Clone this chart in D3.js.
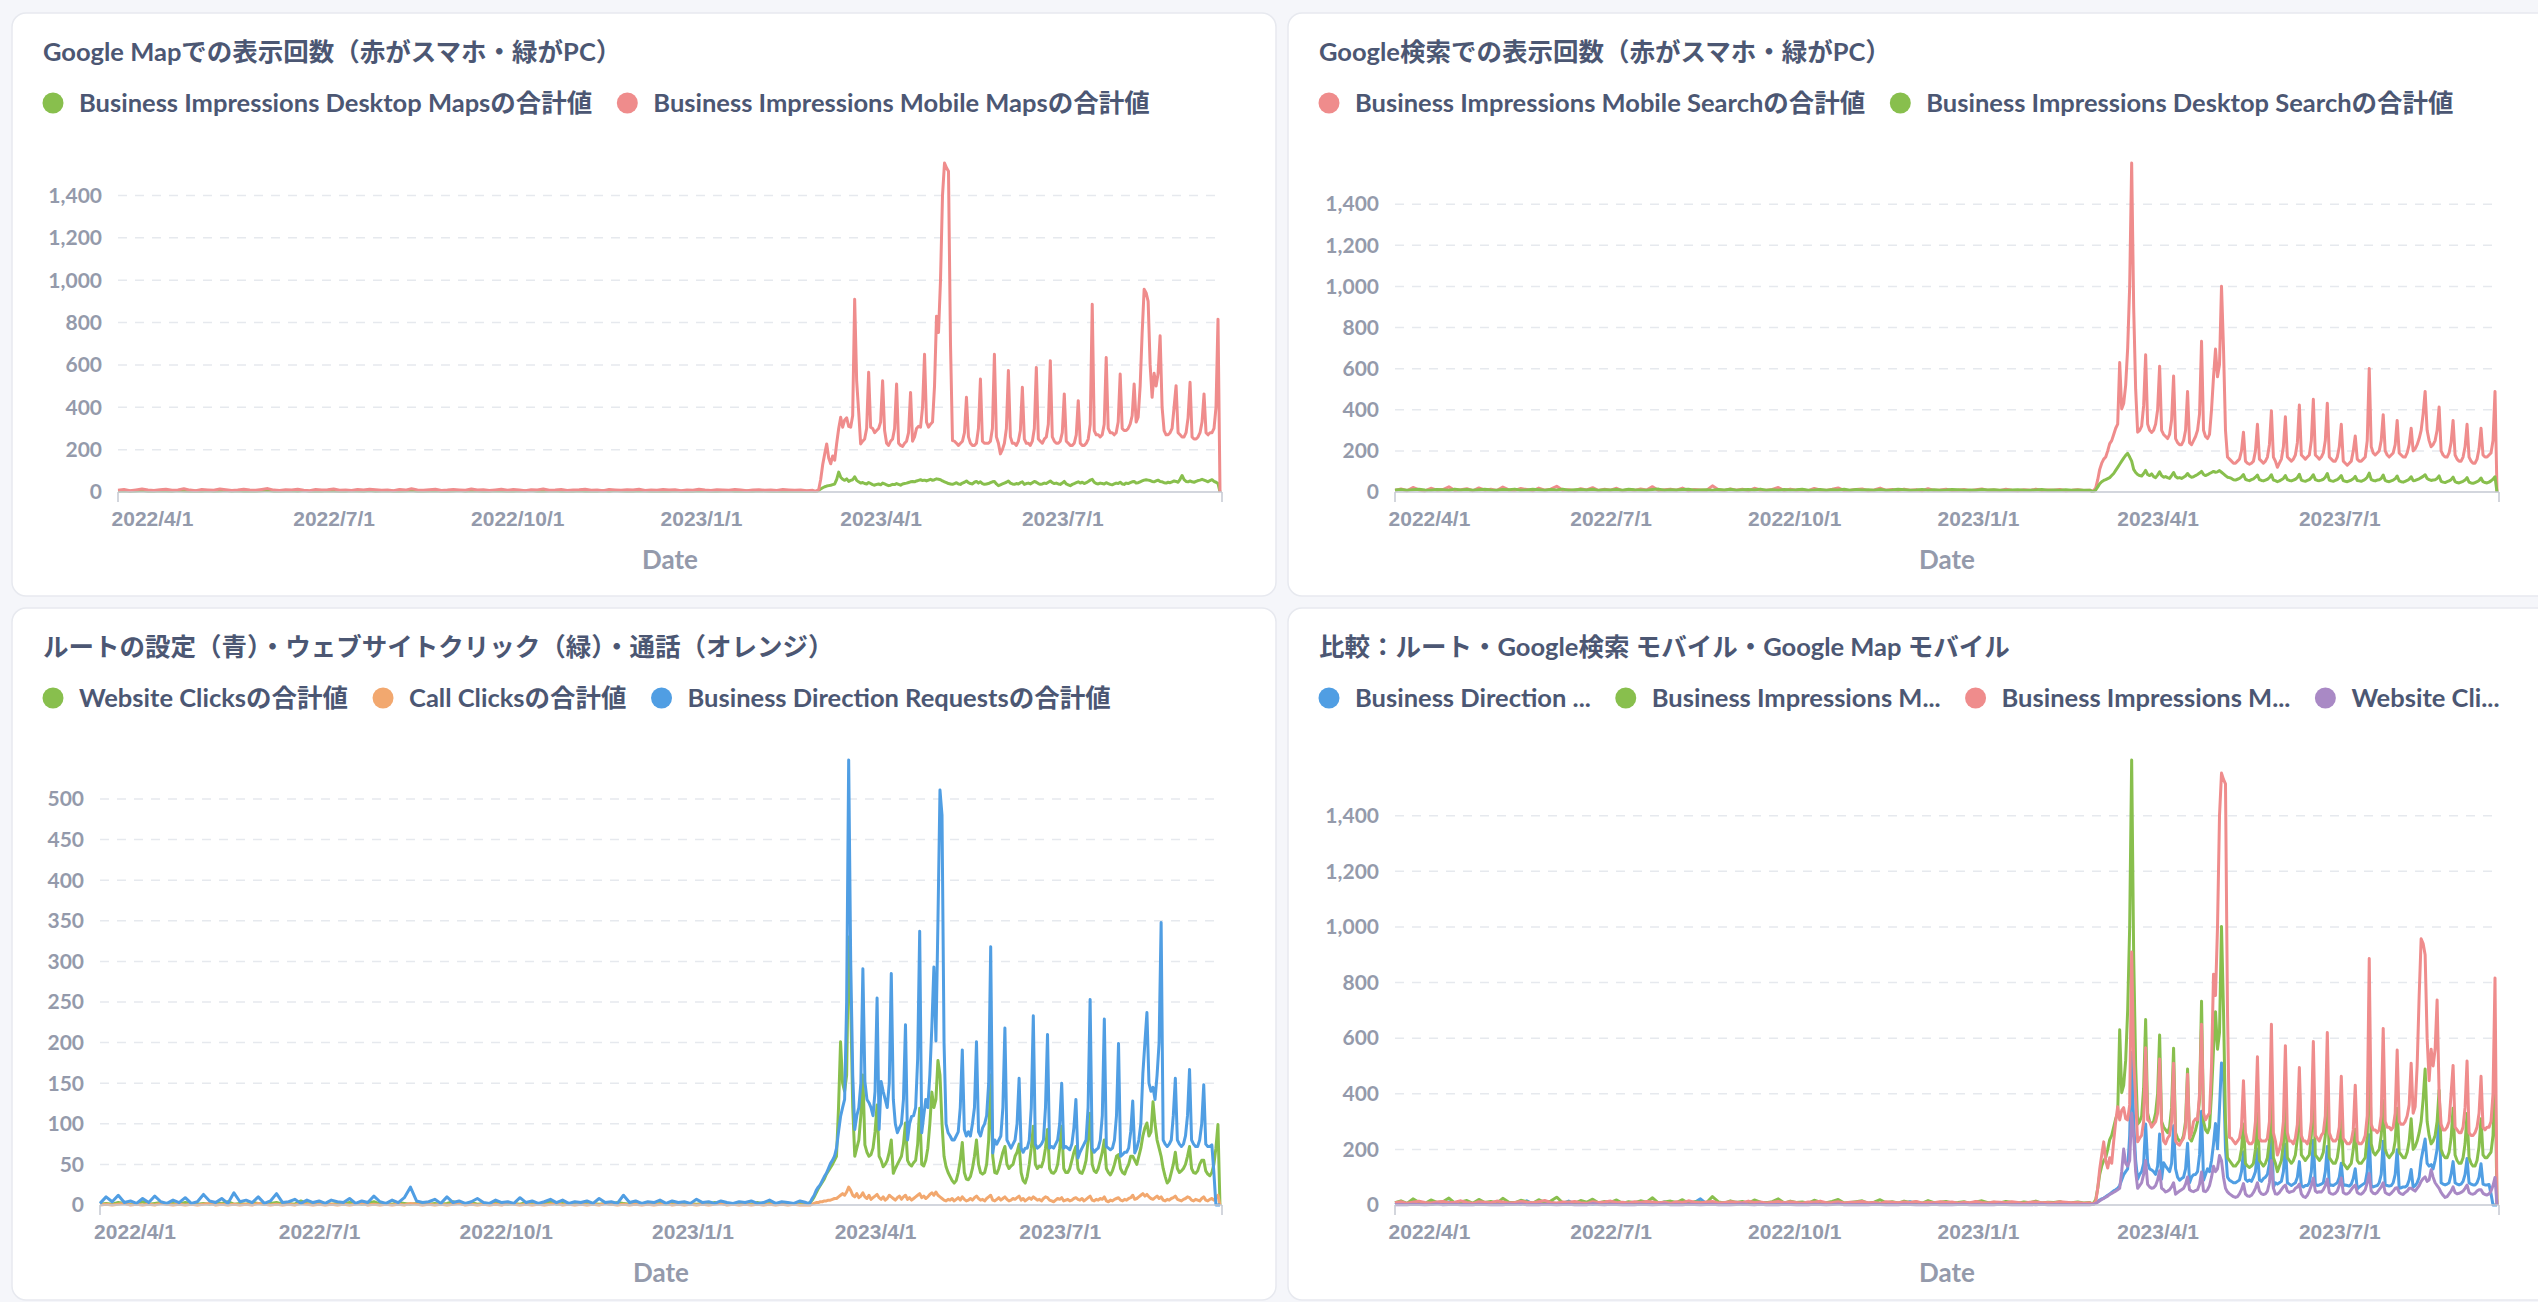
<!DOCTYPE html>
<html>
<head>
<meta charset="utf-8">
<script src="https://cdn.jsdelivr.net/npm/d3@7"></script>
<style>
  body { margin: 0; background: #f5f6fa; }
  svg { display: block; font-family: Lato, "Noto Sans CJK JP", sans-serif; }
</style>
</head>
<body>
<svg id="chart"></svg>
<script>
// quiet period (2022/3/15 .. 2023/2/26) is read every 3 days,
// the busy period from 2023/2/27 day by day (one row = Mon..Sun)
var quietStart = new Date(2022, 2, 15),
    activeStart = new Date(2023, 1, 27),
    axisEnd = new Date(2023, 8, 19);

var tickDates = [new Date(2022, 3, 1), new Date(2022, 6, 1), new Date(2022, 9, 1),
                 new Date(2023, 0, 1), new Date(2023, 3, 1), new Date(2023, 6, 1)];
var tickLabels = ["2022/4/1", "2022/7/1", "2022/10/1", "2023/1/1", "2023/4/1", "2023/7/1"];

var yTicksBig = [0, 200, 400, 600, 800, 1000, 1200, 1400];
var yTicksSmall = [0, 50, 100, 150, 200, 250, 300, 350, 400, 450, 500];

// ---- Business Impressions Mobile Maps
var mobileMapsQuiet = [
  8,12,6,10,14,9,7,11,13,8,10,15,9,
  6,12,10,8,14,11,7,9,13,10,8,12,16,
  9,7,11,10,13,8,6,12,9,11,14,8,10,
  7,12,9,13,11,8,10,6,12,9,15,10,8,
  11,13,7,9,12,10,8,14,9,11,7,10,13,
  8,12,9,6,11,10,14,8,9,12,7,10,11,
  13,8,9,6,12,10,8,11,9,13,7,10,8,
  12,9,11,6,10,8,13,9,7,11,10,8,12,
  9,6,10,11,8,9,7,12,10,8,9,6,8];
var mobileMaps = [
  4,6,12,60,130,180,227,
  160,133,170,150,230,300,353,
  306,340,350,310,306,360,910,
  525,380,227,240,250,300,565,
  306,300,280,290,300,330,525,
  290,230,220,240,250,300,510,
  230,220,215,230,240,280,470,
  240,260,300,310,306,400,650,
  330,306,320,330,500,830,753,
  1000,1400,1553,1530,1514,700,243,
  240,230,220,230,240,280,447,
  260,230,220,220,230,300,533,
  240,230,230,230,240,300,650,
  260,230,180,200,230,300,573,
  260,230,230,220,240,290,494,
  250,230,230,220,240,300,588,
  250,240,230,250,260,320,620,
  260,240,230,230,240,280,463,
  240,230,220,220,230,270,431,
  230,220,220,230,250,320,886,
  290,270,270,260,270,320,635,
  300,280,280,270,280,330,557,
  300,290,290,300,320,360,510,
  330,353,500,750,957,940,900,
  600,447,560,500,560,737,400,
  290,270,270,280,300,400,502,
  280,270,260,260,280,350,518,
  260,250,250,260,280,330,463,
  280,270,280,280,300,400,816,
  0];

// ---- Business Impressions Desktop Maps
var desktopMapsQuiet = [
  4,6,3,5,7,4,3,6,5,4,7,5,3,
  5,4,6,3,5,7,4,6,3,5,4,6,8,
  4,3,5,6,4,7,3,5,4,6,5,3,4,
  6,5,3,7,4,5,6,3,4,5,7,4,3,
  5,6,4,3,5,7,4,6,5,3,4,6,5,
  3,4,6,5,7,4,3,5,6,4,5,3,6,
  4,5,3,6,4,7,5,3,4,6,5,4,3,
  5,4,6,3,5,4,6,5,3,4,5,6,4,
  3,5,4,6,5,3,4,5,4,3,5,4,3];
var desktopMaps = [
  2,3,8,15,20,25,28,
  30,32,35,38,60,94,70,
  60,55,62,50,55,58,72,
  55,48,42,45,40,38,45,
  40,35,32,36,38,34,42,
  38,34,30,32,36,35,40,
  36,32,38,40,42,45,48,
  50,48,52,55,58,54,56,
  52,56,60,55,58,62,60,
  58,52,48,44,40,38,36,
  40,44,38,36,42,46,52,
  44,40,38,46,50,42,48,
  40,36,38,40,44,48,50,
  38,30,34,38,42,46,52,
  42,38,36,40,38,44,48,
  36,40,42,38,44,50,46,
  40,36,38,42,40,46,52,
  44,40,42,38,36,42,50,
  38,34,30,36,40,44,48,
  42,46,40,44,50,56,60,
  46,40,38,42,40,38,44,
  40,36,34,38,42,40,46,
  38,36,42,40,44,48,50,
  42,44,48,52,56,58,56,
  54,50,48,52,56,50,48,
  44,42,46,44,48,52,50,
  46,60,78,58,50,48,52,
  48,46,50,54,56,60,56,
  52,48,54,58,50,46,40,
  0];

// ---- Business Impressions Mobile Search
var mobileSearchQuiet = [
  8,15,6,22,10,5,18,9,12,25,7,11,16,
  6,20,9,13,7,24,10,8,17,12,6,19,9,
  14,28,8,11,6,16,10,21,7,13,9,18,6,
  12,8,15,10,26,7,11,14,9,19,6,12,10,
  8,30,11,7,15,9,13,6,18,10,8,12,22,
  7,14,9,11,6,17,10,8,13,20,7,9,12,
  15,6,10,19,8,12,7,14,9,11,6,16,8,
  10,13,7,9,12,6,11,15,8,10,7,13,9,
  6,11,8,14,7,10,9,12,6,8,11,7,9];
var mobileSearch = [
  5,8,20,60,110,140,160,
  170,200,235,250,280,310,330,
  630,404,430,520,700,1000,1600,
  900,500,291,300,320,420,667,
  330,300,290,300,330,400,611,
  300,280,270,260,280,350,564,
  260,240,230,230,250,300,489,
  240,230,250,270,300,380,733,
  300,270,260,280,400,560,695,
  560,620,1001,700,300,170,160,
  150,140,140,150,160,200,291,
  150,140,135,140,150,200,329,
  160,150,140,150,170,230,395,
  170,150,120,140,160,220,366,
  170,160,150,160,180,240,423,
  180,170,160,170,180,250,451,
  180,170,160,170,190,250,432,
  170,160,150,150,170,220,329,
  150,140,130,140,150,200,272,
  160,150,150,160,170,250,601,
  220,190,180,190,200,250,376,
  200,180,170,180,190,230,348,
  190,180,170,170,190,230,310,
  200,210,230,260,300,380,489,
  300,250,220,230,250,300,413,
  200,180,170,170,190,240,348,
  180,160,150,150,170,220,329,
  170,150,140,140,160,210,310,
  180,170,170,180,190,250,489,
  0];

// ---- Business Impressions Desktop Search
var desktopSearchQuiet = [
  10,12,9,11,13,10,8,12,11,9,14,10,12,
  9,11,13,10,8,12,11,14,9,10,13,11,8,
  12,10,14,9,11,12,10,13,8,11,10,12,9,
  13,11,10,8,12,14,9,11,10,12,13,9,10,
  11,8,12,10,13,9,11,12,10,14,9,11,8,
  12,10,11,13,9,10,12,8,11,10,13,9,12,
  10,11,9,12,8,10,13,11,9,10,12,8,11,
  9,10,12,11,8,10,9,12,10,11,8,9,10,
  11,9,8,10,12,9,10,8,11,9,10,8,9];
var desktopSearch = [
  3,4,10,25,40,50,56,
  60,65,70,80,90,105,120,
  135,150,165,178,188,170,150,
  110,95,85,80,78,90,105,
  85,80,88,75,70,82,98,
  80,72,75,70,66,80,95,
  75,68,70,66,72,78,90,
  78,72,74,80,85,92,100,
  85,80,84,90,95,100,96,
  98,104,96,88,80,72,70,
  66,60,58,62,66,74,85,
  62,58,55,60,64,72,82,
  60,56,54,58,62,70,84,
  58,55,50,54,60,66,80,
  60,56,54,58,62,70,86,
  58,54,52,56,60,70,84,
  60,56,55,58,62,72,90,
  58,54,52,56,60,68,80,
  55,52,50,54,58,64,76,
  56,54,52,56,62,72,92,
  60,56,54,58,60,66,82,
  56,52,50,54,58,64,78,
  54,50,48,52,56,62,74,
  55,56,60,64,70,76,84,
  66,60,56,58,60,66,78,
  52,48,46,50,54,60,72,
  50,46,44,48,52,58,70,
  48,44,42,46,50,56,68,
  50,46,44,48,54,62,74,
  0];

// ---- Website Clicks
var websiteQuiet = [
  1,2,1,3,2,1,2,4,1,2,3,1,2,
  1,3,2,1,2,1,3,2,4,1,2,1,3,
  2,1,2,3,1,2,1,5,2,1,3,2,1,
  2,1,3,2,1,2,4,1,2,1,3,2,1,
  2,3,1,2,1,2,4,2,1,3,1,2,1,
  3,2,1,2,1,3,2,1,2,4,1,2,1,
  2,1,3,2,1,2,1,3,2,1,2,1,3,
  1,2,1,2,3,1,2,1,2,1,3,2,1,
  2,1,2,1,3,1,2,1,2,1,1,2,1];
var website = [
  2,3,6,10,15,20,24,
  28,32,38,42,46,50,55,
  60,120,201,150,140,160,330,
  250,120,60,70,80,110,160,
  74,65,60,62,70,90,123,
  60,55,47,50,55,65,80,
  39,45,50,55,60,75,101,
  55,50,48,52,55,75,119,
  50,48,55,70,100,139,120,
  130,178,160,100,60,47,40,
  35,30,27,30,40,55,77,
  40,32,31,35,45,60,80,
  50,40,38,40,50,80,160,
  60,40,39,45,55,65,72,
  50,45,48,50,60,65,75,
  40,30,27,35,50,70,97,
  50,45,48,47,55,70,93,
  45,40,39,42,50,70,97,
  45,40,40,45,55,65,72,
  45,40,39,45,55,80,113,
  50,42,40,45,55,65,80,
  45,40,37,42,50,60,62,
  45,40,38,45,50,60,60,
  55,50,60,70,85,95,101,
  85,90,127,100,80,70,60,
  45,35,27,30,40,50,65,
  45,40,42,45,50,60,72,
  45,40,39,42,50,55,55,
  42,38,36,40,50,70,99,
  0];

// ---- Call Clicks
var callQuiet = [
  0,1,0,1,2,0,1,0,1,0,2,1,0,
  1,0,1,0,1,2,0,1,0,1,0,1,0,
  2,1,0,1,0,1,0,2,1,0,1,0,1,
  0,1,0,1,2,0,1,0,1,0,1,0,2,
  1,0,1,0,1,0,1,2,0,1,0,1,0,
  1,0,2,1,0,1,0,1,0,1,2,0,1,
  0,1,0,1,0,2,1,0,1,0,1,0,1,
  0,1,2,0,1,0,1,0,1,0,1,2,0,
  1,0,1,0,1,0,1,0,1,0,1,0,0];
var call = [
  0,0,1,2,3,3,4,
  4,5,5,6,6,7,8,
  8,10,12,14,12,16,22,
  18,12,10,14,9,11,15,
  10,8,12,7,9,11,13,
  9,7,10,6,8,12,10,
  8,6,9,11,7,10,12,
  7,9,6,8,10,12,14,
  9,11,8,10,13,15,12,
  16,12,10,8,6,5,7,
  6,8,5,7,9,6,10,
  7,5,6,8,6,9,11,
  8,6,7,5,8,10,12,
  6,5,7,9,6,8,10,
  7,5,6,8,7,9,11,
  6,8,5,7,9,7,10,
  8,6,7,5,8,10,9,
  6,5,4,6,8,7,9,
  5,6,7,5,6,8,9,
  7,6,8,5,7,9,11,
  6,5,7,6,8,7,10,
  5,4,6,5,7,8,9,
  6,5,7,6,8,9,12,
  7,8,10,12,14,11,13,
  10,8,7,9,11,8,10,
  6,5,7,6,8,9,11,
  7,6,5,7,8,10,9,
  6,5,7,6,5,8,10,
  6,5,7,8,6,9,12,
  0];

// ---- Business Direction Requests
var directionsQuiet = [
  2,10,4,12,3,5,2,8,3,11,4,2,6,
  3,9,2,4,13,5,3,8,2,15,4,6,3,
  10,2,5,14,3,4,7,2,6,3,5,2,6,
  4,3,8,2,5,3,11,4,2,6,3,9,22,
  5,3,4,7,2,10,3,5,2,4,8,3,2,
  6,3,4,2,9,3,5,2,4,7,3,6,2,
  4,3,5,2,8,3,4,2,12,3,5,2,4,
  3,6,2,5,3,4,2,7,3,4,2,5,3,
  2,4,3,5,2,3,6,2,4,3,2,5,3];
var directions = [
  2,3,8,12,18,22,25,
  30,35,39,45,51,55,60,
  70,90,109,120,130,250,548,
  300,160,93,110,120,150,291,
  152,130,126,120,110,140,255,
  93,152,140,130,120,150,285,
  130,100,89,95,100,130,222,
  80,100,109,110,120,180,337,
  89,110,130,120,160,220,293,
  202,350,511,480,200,100,89,
  85,80,80,85,90,120,191,
  93,85,90,85,100,120,201,
  90,85,95,100,110,150,318,
  64,80,75,80,85,120,218,
  80,75,70,75,80,100,156,
  70,65,70,70,80,120,233,
  75,70,72,75,80,120,210,
  70,72,70,75,80,100,150,
  70,72,70,68,75,95,130,
  58,65,70,75,80,120,253,
  70,65,68,70,80,110,229,
  72,70,68,70,80,110,199,
  60,62,65,65,70,90,128,
  64,70,80,100,162,200,237,
  150,140,145,130,160,200,348,
  80,75,72,75,80,110,156,
  80,75,72,75,85,110,167,
  80,75,72,72,80,100,148,
  75,72,72,74,40,0,0,
  0];

// join the 3-day quiet readings and the daily readings into one dated series
var quietSlots = Math.ceil(d3.timeDay.count(quietStart, activeStart) / 3);
function dated(quiet, active) {
  var pts = quiet.slice(0, quietSlots).map(function(v, i) {
    return { date: d3.timeDay.offset(quietStart, i * 3), value: v };
  });
  active.forEach(function(v, i) {
    pts.push({ date: d3.timeDay.offset(activeStart, i), value: v });
  });
  return pts;
}

var GREEN = "#88bf4d", RED = "#ef8c8c", BLUE = "#509ee3", ORANGE = "#f2a86f", PURPLE = "#a989c5";

var panels = [
  { title: "Google Mapでの表示回数（赤がスマホ・緑がPC）",
    card: [12, 13, 1264, 583], plot: { l: 118, r: 1222, t: 163, b: 492 }, ticks: yTicksBig,
    series: [
      { label: "Business Impressions Desktop Mapsの合計値", color: GREEN, data: dated(desktopMapsQuiet, desktopMaps) },
      { label: "Business Impressions Mobile Mapsの合計値", color: RED, data: dated(mobileMapsQuiet, mobileMaps) } ] },
  { title: "Google検索での表示回数（赤がスマホ・緑がPC）",
    card: [1288, 13, 1264, 583], plot: { l: 1395, r: 2499, t: 163, b: 492 }, ticks: yTicksBig,
    series: [
      { label: "Business Impressions Mobile Searchの合計値", color: RED, data: dated(mobileSearchQuiet, mobileSearch) },
      { label: "Business Impressions Desktop Searchの合計値", color: GREEN, data: dated(desktopSearchQuiet, desktopSearch) } ] },
  { title: "ルートの設定（青）・ウェブサイトクリック（緑）・通話（オレンジ）",
    card: [12, 608, 1264, 692], plot: { l: 100, r: 1222, t: 760, b: 1205 }, ticks: yTicksSmall,
    series: [
      { label: "Website Clicksの合計値", color: GREEN, data: dated(websiteQuiet, website) },
      { label: "Call Clicksの合計値", color: ORANGE, data: dated(callQuiet, call) },
      { label: "Business Direction Requestsの合計値", color: BLUE, data: dated(directionsQuiet, directions) } ] },
  { title: "比較：ルート・Google検索 モバイル・Google Map モバイル",
    card: [1288, 608, 1264, 692], plot: { l: 1395, r: 2499, t: 760, b: 1205 }, ticks: yTicksBig,
    series: [
      { label: "Business Direction ...", color: BLUE, data: dated(directionsQuiet, directions) },
      { label: "Business Impressions M...", color: GREEN, data: dated(mobileSearchQuiet, mobileSearch) },
      { label: "Business Impressions M...", color: RED, data: dated(mobileMapsQuiet, mobileMaps) },
      { label: "Website Cli...", color: PURPLE, data: dated(websiteQuiet, website) } ] }
];

var W = 2538, H = 1302;
var svg = d3.select("#chart").attr("width", W).attr("height", H);
svg.append("rect").attr("width", W).attr("height", H).attr("fill", "#f5f6fa");

var fmt = d3.format(",");

panels.forEach(function(p) {
  var c = p.card, pl = p.plot;
  var g = svg.append("g");

  g.append("rect")
    .attr("x", c[0]).attr("y", c[1]).attr("width", c[2]).attr("height", c[3])
    .attr("rx", 14).attr("fill", "#fff")
    .attr("stroke", "#e7e9ef").attr("stroke-width", 1.5);

  g.append("text")
    .attr("x", c[0] + 31).attr("y", c[1] + 48)
    .attr("fill", "#4c5773").attr("font-size", 25.5).attr("font-weight", 700)
    .text(p.title);

  // legend: dot + label, laid out left to right
  var lx = c[0] + 41, ly = c[1] + 90;
  p.series.forEach(function(s) {
    g.append("circle").attr("cx", lx).attr("cy", ly).attr("r", 10.5).attr("fill", s.color);
    var t = g.append("text")
      .attr("x", lx + 26).attr("y", ly + 9)
      .attr("fill", "#4c5773").attr("font-size", 25.5).attr("font-weight", 700)
      .text(s.label);
    lx += 26 + t.node().getComputedTextLength() + 35;
  });

  var yMax = d3.max(p.series, function(s) { return d3.max(s.data, function(d) { return d.value; }); });
  var x = d3.scaleTime().domain([quietStart, axisEnd]).range([pl.l, pl.r]);
  var y = d3.scaleLinear().domain([0, yMax]).range([pl.b, pl.t]);

  // dashed grid + y labels
  g.selectAll(".grid").data(p.ticks.filter(function(v) { return v > 0; })).enter()
    .append("line")
    .attr("x1", pl.l).attr("x2", pl.r)
    .attr("y1", function(v) { return y(v); }).attr("y2", function(v) { return y(v); })
    .attr("stroke", "#e6e9ee").attr("stroke-width", 1.5).attr("stroke-dasharray", "9,8");

  g.selectAll(".ylab").data(p.ticks).enter()
    .append("text")
    .attr("x", pl.l - 16).attr("y", function(v) { return y(v); })
    .attr("dy", "0.35em").attr("text-anchor", "end")
    .attr("fill", "#949aab").attr("font-size", 21).attr("font-weight", 700)
    .text(function(v) { return fmt(v); });

  // x axis
  var ax = g.append("g")
    .attr("transform", "translate(0," + pl.b + ")")
    .call(d3.axisBottom(x).tickValues(tickDates).tickSize(0).tickPadding(0)
      .tickFormat(function(d, i) { return tickLabels[i]; }));
  ax.select(".domain").remove();
  ax.selectAll("text")
    .attr("y", 34).attr("dy", null)
    .attr("fill", "#949aab").attr("font-size", 21).attr("font-weight", 700)
    .attr("font-family", null);

  g.append("text")
    .attr("x", (pl.l + pl.r) / 2).attr("y", pl.b + 77)
    .attr("text-anchor", "middle")
    .attr("fill", "#949aab").attr("font-size", 26).attr("font-weight", 700)
    .text("Date");

  // lines
  var line = d3.line()
    .x(function(d) { return x(d.date); })
    .y(function(d) { return y(d.value); });

  p.series.forEach(function(s) {
    g.append("path").datum(s.data)
      .attr("d", line)
      .attr("fill", "none")
      .attr("stroke", s.color)
      .attr("stroke-width", 3)
      .attr("stroke-linejoin", "round");
  });

  // baseline with end ticks
  g.append("line").attr("x1", pl.l).attr("x2", pl.r).attr("y1", pl.b).attr("y2", pl.b)
    .attr("stroke", "#c4c8d2").attr("stroke-width", 1.5);
  [pl.l, pl.r].forEach(function(xx) {
    g.append("line").attr("x1", xx).attr("x2", xx).attr("y1", pl.b).attr("y2", pl.b + 10)
      .attr("stroke", "#c4c8d2").attr("stroke-width", 1.5);
  });
});
</script>
</body>
</html>
